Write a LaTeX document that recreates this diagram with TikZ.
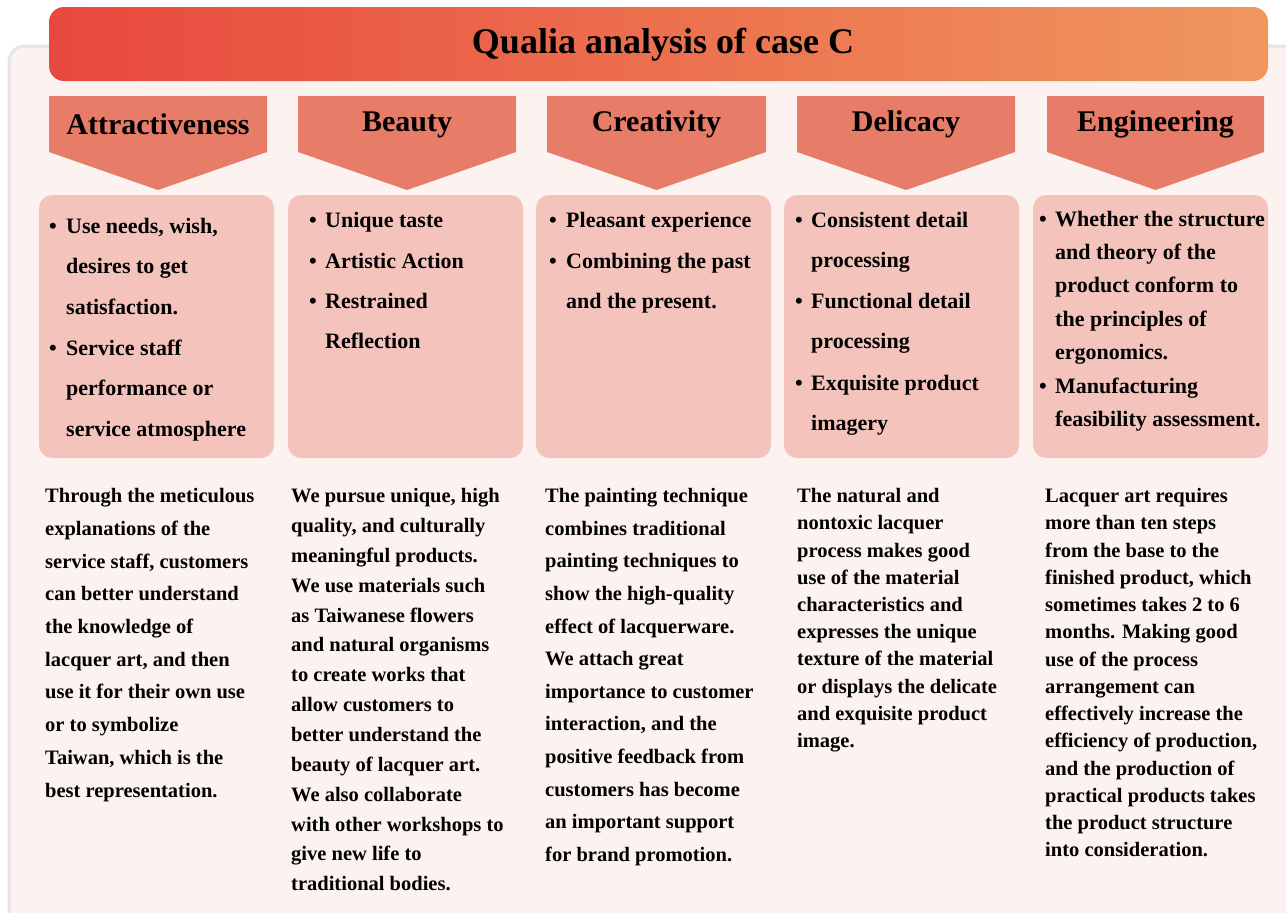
\documentclass[tikz,border=0pt]{standalone}
\usepackage{fontspec}
\setmainfont{Liberation Serif}
\definecolor{panelfill}{HTML}{FCF2F0}
\definecolor{panelborder}{HTML}{E6E6E6}
\definecolor{titleL}{HTML}{E8483E}
\definecolor{titleR}{HTML}{F0975E}
\definecolor{hdrfill}{HTML}{E77C68}
\definecolor{boxfill}{HTML}{F4C4BC}
\tikzset{
  panel/.style={draw=panelborder, line width=3pt, fill=panelfill, rounded corners=16pt},
  titlebar/.style={left color=titleL, right color=titleR, rounded corners=15pt},
  hdr/.style={fill=hdrfill},
  bbox/.style={fill=boxfill, rounded corners=13pt},
  ttext/.style={font=\fontsize{36}{40}\selectfont\bfseries, anchor=base, inner sep=0pt},
  htext/.style={font=\fontsize{30}{36}\selectfont\bfseries, anchor=base, inner sep=0pt},
  btext/.style={font=\fontsize{22}{#1}\selectfont\bfseries, anchor=base west, align=left, inner sep=0pt},
  bdot/.style={font=\fontsize{22}{22}\selectfont\bfseries, anchor=base west, inner sep=0pt},
  body/.style={font=\fontsize{20.5}{#1}\selectfont\bfseries, anchor=base west, align=left, inner sep=0pt},
}
\begin{document}
\begin{tikzpicture}[x=1pt,y=-1pt]
\useasboundingbox (0,0) rectangle (1286,913);
\fill[white] (0,0) rectangle (1286,913);
% panel
\path[panel] (9,46) rectangle (1300,930);
% title
\shade[titlebar] (49,7) rectangle (1268,81);
\node[ttext] (title) at (663,53.5) {Qualia analysis of case C};
% headers
\foreach \l/\r [count=\i] in {49/267, 298/516, 547/766, 797/1015, 1047/1264}{
  \pgfmathsetmacro{\c}{(\l+\r)/2}
  \fill[hdr] (\l,96) -- (\r,96) -- (\r,152) -- (\c,190) -- (\l,152) -- cycle;
}
\node[htext] (h1) at (158,134) {Attractiveness};
\node[htext] (h2) at (407,131) {Beauty};
\node[htext] (h3) at (656.5,131) {Creativity};
\node[htext] (h4) at (906,131) {Delicacy};
\node[htext] (h5) at (1155.5,131) {Engineering};
% bullet boxes
\foreach \l in {39, 288, 536, 784, 1033}{
  \fill[bbox] (\l,195) rectangle (\l+235,458);
}
% (multi-line nodes are placed by the baseline of their last line)
% Attractiveness bullets
\node[bdot] (a1d) at (49,233) {•};
\node[btext=40.7] (a1) at (66,314.4) {Use needs, wish,\\desires to get\\satisfaction.};
\node[bdot] (a2d) at (49,355) {•};
\node[btext=40.7] (a2) at (66,436.4) {Service staff\\performance or\\service atmosphere};
% Beauty bullets
\node[bdot] (b1d) at (309,227) {•};
\node[btext=40.7] (b1) at (325,227) {Unique taste};
\node[bdot] (b2d) at (309,268) {•};
\node[btext=40.7] (b2) at (325,268) {Artistic Action};
\node[bdot] (b3d) at (309,308) {•};
\node[btext=40.7] (b3) at (325,348.7) {Restrained\\Reflection};
% Creativity bullets
\node[bdot] (c1d) at (549,227) {•};
\node[btext=40.7] (c1) at (566,227) {Pleasant experience};
\node[bdot] (c2d) at (549,268) {•};
\node[btext=40.7] (c2) at (566,308.7) {Combining the past\\and the present.};
% Delicacy bullets
\node[bdot] (d1d) at (795,227) {•};
\node[btext=40.7] (d1) at (811,267.7) {Consistent detail\\processing};
\node[bdot] (d2d) at (795,308) {•};
\node[btext=40.7] (d2) at (811,348.7) {Functional detail\\processing};
\node[bdot] (d3d) at (795,390) {•};
\node[btext=40.7] (d3) at (811,430.7) {Exquisite product\\imagery};
% Engineering bullets
\node[bdot] (e1d) at (1039,226) {•};
\node[btext=33.4] (e1) at (1055,359.6) {Whether the structure\\and theory of the\\product conform to\\the principles of\\ergonomics.};
\node[bdot] (e2d) at (1039,393) {•};
\node[btext=33.4] (e2) at (1055,426.4) {Manufacturing\\feasibility assessment.};
% body texts
\node[body=32.7] (t1) at (45,797.0) {Through the meticulous\\explanations of the\\service staff, customers\\can better understand\\the knowledge of\\lacquer art, and then\\use it for their own use\\or to symbolize\\Taiwan, which is the\\best representation.};
\node[body=29.85] (t2) at (291,890.75) {We pursue unique, high\\quality, and culturally\\meaningful products.\\We use materials such\\as Taiwanese flowers\\and natural organisms\\to create works that\\allow customers to\\better understand the\\beauty of lacquer art.\\We also collaborate\\with other workshops to\\give new life to\\traditional bodies.};
\node[body=32.6] (t3) at (545,861.3) {The painting technique\\combines traditional\\painting techniques to\\show the high-quality\\effect of lacquerware.\\We attach great\\importance to customer\\interaction, and the\\positive feedback from\\customers has become\\an important support\\for brand promotion.};
\node[body=27.2] (t4) at (797,747.5) {The natural and\\nontoxic lacquer\\process makes good\\use of the material\\characteristics and\\expresses the unique\\texture of the material\\or displays the delicate\\and exquisite product\\image.};
\node[body=27.23] (t5) at (1045,856.7) {Lacquer art requires\\more than ten steps\\from the base to the\\finished product, which\\sometimes takes 2 to 6\\months. Making good\\use of the process\\arrangement can\\effectively increase the\\efficiency of production,\\and the production of\\practical products takes\\the product structure\\into consideration.};
\end{tikzpicture}
\end{document}
